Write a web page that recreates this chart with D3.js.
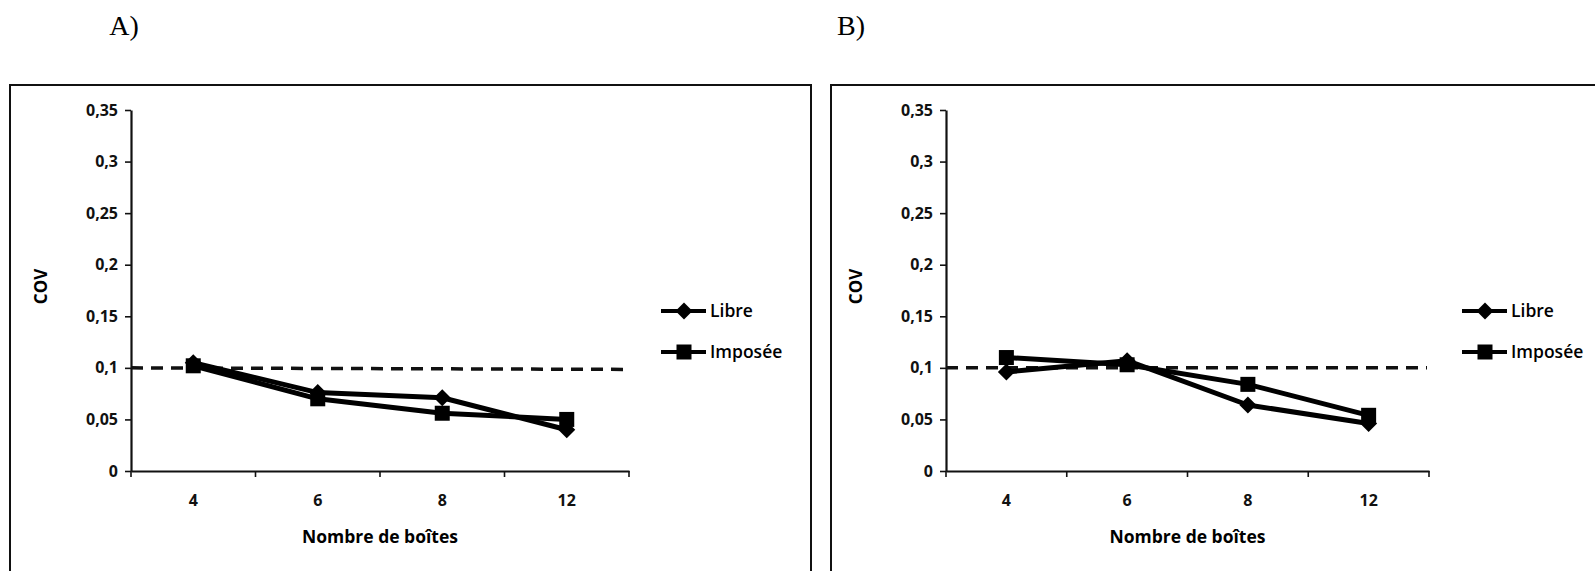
<!DOCTYPE html>
<html>
<head>
<meta charset="utf-8">
<script src="https://cdn.jsdelivr.net/npm/d3@7"></script>
<style>
  html, body { margin: 0; padding: 0; background: #fff; }
  svg { display: block; }
</style>
</head>
<body>
<svg id="chart" width="1595" height="571"></svg>
<script>
// Box counts on the x axis and COV values for each panel
const categories = ["4", "6", "8", "12"];
const yTicks = [0, 0.05, 0.1, 0.15, 0.2, 0.25, 0.3, 0.35];
const seriesNames = ["Libre", "Imposée"];

const libreA   = [0.105, 0.076, 0.071, 0.040];
const imposeeA = [0.102, 0.070, 0.056, 0.050];
const libreB   = [0.096, 0.107, 0.064, 0.046];
const imposeeB = [0.110, 0.103, 0.084, 0.054];

// Reference threshold (start / end value of the dashed line)
const thresholdA = [0.100, 0.0985];
const thresholdB = [0.100, 0.100];

const panelLabels = ["A)", "B)"];

const svg = d3.select("#chart");
const fmt = d => String(d).replace(".", ",");
const sans = "'Open Sans', 'Liberation Sans', sans-serif";

const panels = [
  { label: panelLabels[0], libre: libreA, imposee: imposeeA, thr: thresholdA,
    frame: [10, 85, 811, 600], plot: [131, 629], labelX: 124, legendX: 661 },
  { label: panelLabels[1], libre: libreB, imposee: imposeeB, thr: thresholdB,
    frame: [831, 85, 1640, 600], plot: [946, 1429], labelX: 851, legendX: 1462 }
];

const yTop = 110, yBottom = 471;

function marker(sel, shape, cx, cy) {
  if (shape === "diamond") {
    const r = 8.5;
    sel.append("path")
      .attr("d", `M${cx},${cy - r}L${cx + r},${cy}L${cx},${cy + r}L${cx - r},${cy}Z`)
      .attr("fill", "#000");
  } else {
    const s = 15;
    sel.append("rect")
      .attr("x", cx - s / 2).attr("y", cy - s / 2)
      .attr("width", s).attr("height", s)
      .attr("fill", "#000");
  }
}

function styleTicks(axisG) {
  axisG.selectAll(".tick text")
    .attr("font-family", sans)
    .attr("font-weight", 700)
    .attr("font-size", 16)
    .attr("fill", "#111");
}

panels.forEach(p => {
  const g = svg.append("g");

  // outer frame
  g.append("rect")
    .attr("x", p.frame[0]).attr("y", p.frame[1])
    .attr("width", p.frame[2] - p.frame[0]).attr("height", p.frame[3] - p.frame[1])
    .attr("fill", "none").attr("stroke", "#111").attr("stroke-width", 2);

  // panel letter
  g.append("text")
    .attr("x", p.labelX).attr("y", 35)
    .attr("text-anchor", "middle")
    .attr("font-family", "'Liberation Serif', 'DejaVu Serif', serif")
    .attr("font-size", 28)
    .text(p.label);

  const x = d3.scaleBand().domain(categories).range(p.plot).paddingInner(0).paddingOuter(0);
  const y = d3.scaleLinear().domain([0, 0.35]).range([yBottom, yTop]);
  const cx = d => x(d) + x.bandwidth() / 2;

  // y axis
  const ya = g.append("g")
    .attr("transform", `translate(${p.plot[0]},0)`)
    .call(d3.axisLeft(y).tickValues(yTicks).tickFormat(fmt).tickSize(6).tickSizeOuter(0).tickPadding(7));
  ya.select(".domain").attr("stroke", "#111").attr("stroke-width", 2.2);
  ya.selectAll(".tick line").attr("stroke", "#111").attr("stroke-width", 1.6);
  styleTicks(ya);

  // x axis: labels centred in bands, ticks on band edges
  const xa = g.append("g")
    .attr("transform", `translate(0,${yBottom})`)
    .call(d3.axisBottom(x).tickSize(0).tickSizeOuter(0).tickPadding(24));
  xa.select(".domain").attr("stroke", "#111").attr("stroke-width", 2.2);
  styleTicks(xa);
  const edges = d3.range(categories.length + 1).map(i => p.plot[0] + i * x.step());
  xa.selectAll("line.edge").data(edges).join("line")
    .attr("class", "edge")
    .attr("x1", d => d).attr("x2", d => d)
    .attr("y1", 0).attr("y2", 6)
    .attr("stroke", "#111").attr("stroke-width", 1.6);

  // axis titles
  g.append("text")
    .attr("transform", `translate(${p.plot[0] - 84},${(yTop + yBottom) / 2 - 4}) rotate(-90)`)
    .attr("text-anchor", "middle")
    .attr("font-family", sans)
    .attr("font-weight", 700).attr("font-size", 17)
    .text("COV");
  g.append("text")
    .attr("x", (p.plot[0] + p.plot[1]) / 2).attr("y", yBottom + 72)
    .attr("text-anchor", "middle")
    .attr("font-family", sans)
    .attr("font-weight", 700).attr("font-size", 17.5)
    .text("Nombre de boîtes");

  // dashed reference line at 0.1
  g.append("line")
    .attr("x1", p.plot[0]).attr("x2", p.plot[1] - 2)
    .attr("y1", y(p.thr[0])).attr("y2", y(p.thr[1]))
    .attr("stroke", "#111").attr("stroke-width", 3.5)
    .attr("stroke-dasharray", "12,8");

  // series lines + markers
  const line = d3.line().x((d, i) => cx(categories[i])).y(d => y(d));
  [[p.libre, "diamond"], [p.imposee, "square"]].forEach(([vals, shape]) => {
    g.append("path").datum(vals)
      .attr("d", line)
      .attr("fill", "none").attr("stroke", "#000")
      .attr("stroke-width", 5).attr("stroke-linejoin", "round");
    vals.forEach((v, i) => marker(g, shape, cx(categories[i]), y(v)));
  });

  // legend
  const legY = [311, 352];
  seriesNames.forEach((name, i) => {
    const lx = p.legendX;
    g.append("line")
      .attr("x1", lx).attr("x2", lx + 45)
      .attr("y1", legY[i]).attr("y2", legY[i])
      .attr("stroke", "#000").attr("stroke-width", 4);
    marker(g, i === 0 ? "diamond" : "square", lx + 23, legY[i]);
    g.append("text")
      .attr("x", lx + 49).attr("y", legY[i] + 6)
      .attr("font-family", sans)
      .attr("font-weight", 600).attr("font-size", 17.5)
      .text(name);
  });
});
</script>
</body>
</html>
